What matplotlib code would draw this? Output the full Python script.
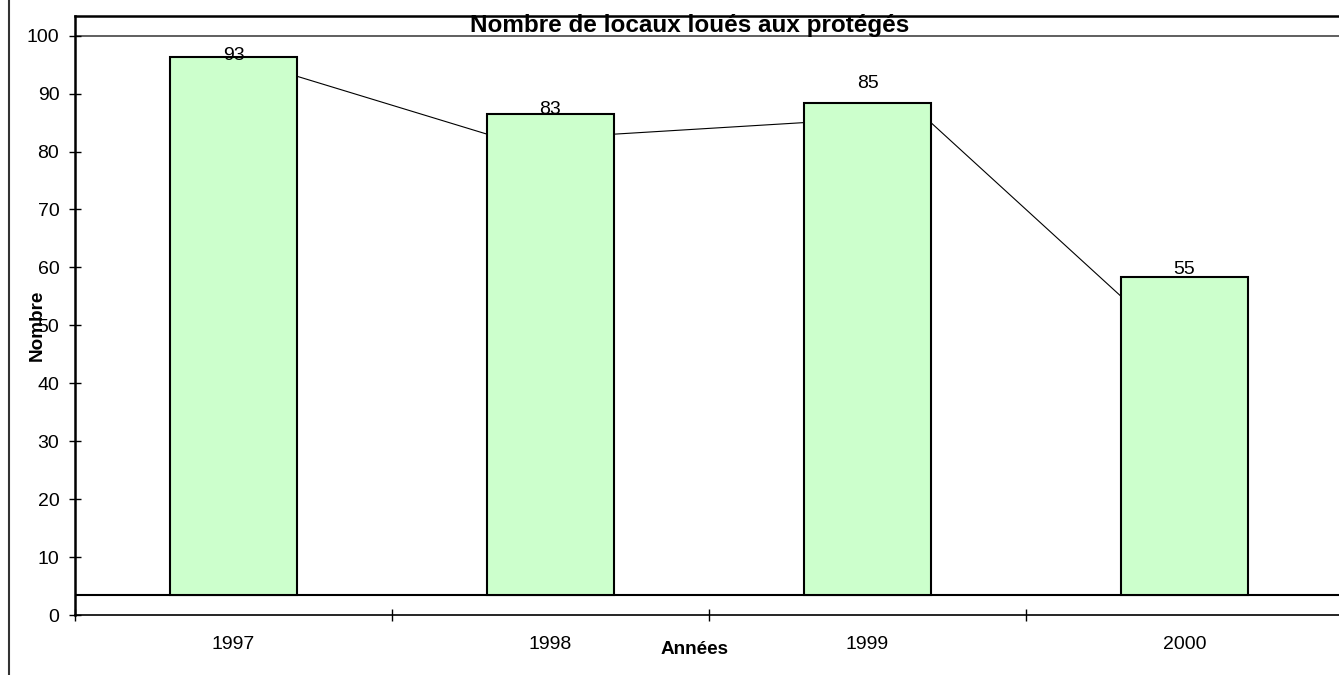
import matplotlib.pyplot as plt
from matplotlib.lines import Line2D

plt.rcParams['font.family'] = ['Liberation Sans', 'DejaVu Sans']

annees = ['1997', '1998', '1999', '2000']
nombre = [93, 83, 85, 55]
# décalage vertical des étiquettes de valeurs
label_dy = [3.5, 4.2, 6.7, 4.6]

base = 3.4   # pied des barres
larg = 0.4   # largeur des barres
W, H = 1339, 675

fig = plt.figure(figsize=(W / 100, H / 100), dpi=100)
ax = fig.add_axes([75 / W, 60 / H, 1268 / W, 599 / H])

x = list(range(len(annees)))

# la courbe relie les bords des barres, à la hauteur de chaque valeur
lx, ly = [], []
for xi, v in zip(x, nombre):
    lx += [xi - larg / 2, xi + larg / 2]
    ly += [v, v]
ax.plot(lx, ly, color='black', lw=0.8, zorder=2)

ax.bar(x, nombre, width=larg, bottom=base, color='#CCFFCC',
       edgecolor='black', linewidth=1.5, zorder=3)
for xi, v, dy in zip(x, nombre, label_dy):
    ax.text(xi, v + dy, str(v), ha='center', va='center', fontsize=14, zorder=4)

ax.axhline(100, color='#444444', lw=1.2, zorder=1)
ax.axhline(base, color='black', lw=1.5, zorder=1)

ax.set_xlim(-0.5, len(annees) - 0.5)
ax.set_ylim(0, 103.4)
ax.set_yticks(range(0, 101, 10))
ax.tick_params(axis='y', direction='inout', length=8.6, width=1, labelsize=14, pad=7)

ax.set_xticks([i - 0.5 for i in range(len(annees) + 1)])
ax.set_xticklabels([])
ax.set_xticks(x, minor=True)
ax.set_xticklabels(annees, minor=True)
ax.tick_params(axis='x', which='major', direction='inout', length=8.6, width=1)
ax.tick_params(axis='x', which='minor', length=0, labelsize=14, pad=15)

for side in ['left', 'top']:
    ax.spines[side].set_linewidth(1.8)
ax.spines['bottom'].set_linewidth(1.2)

fig.text(690 / W, 1 - 25.5 / H, 'Nombre de locaux loués aux protégés',
         ha='center', va='center', fontsize=17.5, fontweight='bold')
fig.text(695 / W, 1 - 649 / H, 'Années', ha='center', va='center',
         fontsize=13.6, fontweight='bold')
fig.text(37 / W, 1 - 325 / H, 'Nombre', ha='center', va='center',
         fontsize=13.6, fontweight='bold', rotation=90)

# cadre extérieur à gauche
fig.add_artist(Line2D([9 / W, 9 / W], [0, 1], color='#333333', lw=1.5))

fig.savefig('out.png', dpi=100)
